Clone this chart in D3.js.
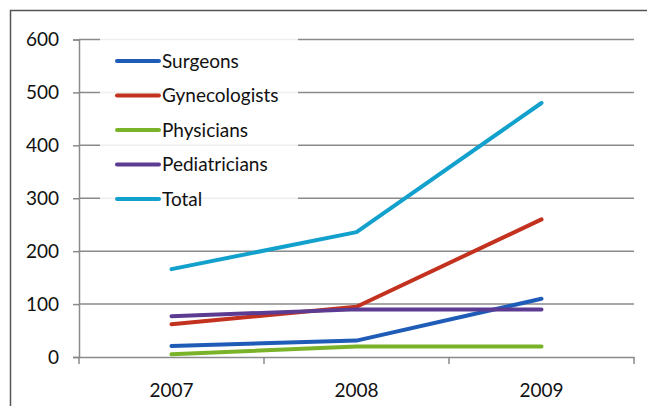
<!DOCTYPE html>
<html>
<head>
<meta charset="utf-8">
<script src="https://cdn.jsdelivr.net/npm/d3@7"></script>
<style>
  body { margin: 0; background: #fff; }
  text { font-family: Lato, "Open Sans", sans-serif; fill: #111; }
</style>
</head>
<body>
<script>
// donnees
const years = ["2007", "2008", "2009"];
const seriesNames = ["Surgeons", "Gynecologists", "Physicians", "Pediatricians", "Total"];
const surgeons = [21, 31, 110];
const gynecologists = [62, 95, 260];
const physicians = [5, 20, 20];
const pediatricians = [77, 90, 90];
const total = [166, 236, 480];
const yTicks = [0, 100, 200, 300, 400, 500, 600];
const colors = ["#1f5cb8", "#c3311f", "#7ab32a", "#5c3b92", "#12a0cc"];

const allValues = [surgeons, gynecologists, physicians, pediatricians, total];

const width = 647, height = 406;
const margin = {top: 39.5, right: 13, bottom: 49, left: 79};
const taillePolice = 19;

const svg = d3.select("body").append("svg")
    .attr("width", width)
    .attr("height", height);

// cadre exterieur (coupe a droite et en bas)
svg.append("rect")
    .attr("x", 10.5).attr("y", 10.5)
    .attr("width", 700).attr("height", 500)
    .attr("fill", "none")
    .attr("stroke", "#555")
    .attr("stroke-width", 1.5);

const x = d3.scaleBand()
    .domain(years)
    .range([margin.left, width - margin.right]);

const y = d3.scaleLinear()
    .domain([0, 600])
    .range([height - margin.bottom, margin.top]);

// grille
svg.append("g")
    .selectAll("line")
    .data(yTicks.filter(d => d > 0))
    .join("line")
    .attr("x1", margin.left)
    .attr("x2", width - margin.right)
    .attr("y1", d => y(d))
    .attr("y2", d => y(d))
    .attr("stroke", "#8a8a8a")
    .attr("stroke-width", 1.5);

// axe Y
const axeY = svg.append("g")
    .attr("transform", "translate(" + margin.left + ",0)")
    .call(d3.axisLeft(y).tickValues(yTicks).tickSize(6).tickPadding(14));
axeY.selectAll("line").attr("stroke", "#8a8a8a").attr("stroke-width", 1.5);
axeY.select(".domain").attr("stroke", "#8a8a8a").attr("stroke-width", 1.5);
axeY.selectAll("text").attr("font-size", taillePolice).attr("fill", "#111");

// axe X
const axeX = svg.append("g")
    .attr("transform", "translate(0," + y(0) + ")")
    .call(d3.axisBottom(x).tickSize(0).tickPadding(27));
axeX.select(".domain").attr("stroke", "#8a8a8a").attr("stroke-width", 1.5);
axeX.selectAll("text").attr("font-size", taillePolice).attr("fill", "#111");

// petites graduations entre categories
const bornes = years.map(d => x(d)).concat([x(years[years.length - 1]) + x.bandwidth()]);
svg.append("g")
    .selectAll("line")
    .data(bornes)
    .join("line")
    .attr("x1", d => d).attr("x2", d => d)
    .attr("y1", y(0)).attr("y2", y(0) + 7)
    .attr("stroke", "#8a8a8a")
    .attr("stroke-width", 1.5);

// legende (fond blanc)
svg.append("rect")
    .attr("x", 100).attr("y", 36)
    .attr("width", 198).attr("height", 180)
    .attr("fill", "#fff")
    .attr("opacity", 0.85);

// courbes
const line = d3.line()
    .x((d, i) => x(years[i]) + x.bandwidth() / 2)
    .y(d => y(d));

svg.append("g")
    .selectAll("path")
    .data(allValues)
    .join("path")
    .attr("d", d => line(d))
    .attr("fill", "none")
    .attr("stroke", (d, i) => colors[i])
    .attr("stroke-width", 4)
    .attr("stroke-linecap", "round")
    .attr("stroke-linejoin", "round");

const leg = svg.append("g")
    .selectAll("g")
    .data(seriesNames)
    .join("g")
    .attr("transform", (d, i) => "translate(117," + (61 + i * 34.5) + ")");

leg.append("line")
    .attr("x1", 0).attr("x2", 42)
    .attr("stroke", (d, i) => colors[i])
    .attr("stroke-width", 4)
    .attr("stroke-linecap", "round");

leg.append("text")
    .attr("x", 45)
    .attr("dy", "0.35em")
    .attr("font-size", taillePolice)
    .text(d => d);
</script>
</body>
</html>
